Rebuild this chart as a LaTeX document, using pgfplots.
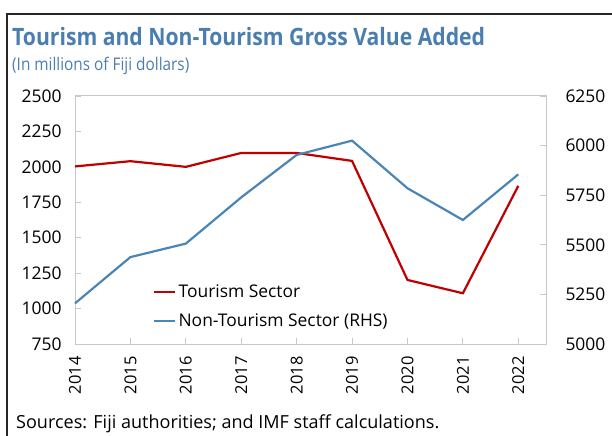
\documentclass[border=0pt]{standalone}
\usepackage{graphicx}
\usepackage{pgfplots}
\pgfplotsset{compat=1.18}
\usepackage{fontspec}
\setmainfont{Open Sans}
\definecolor{titleblue}{HTML}{4A7EB0}
\definecolor{tred}{HTML}{C00000}
\definecolor{tblue}{HTML}{4A85B8}
\definecolor{axgray}{HTML}{C8C8C8}
\pgfplotsset{
  myax/.style={
    scale only axis, width=471bp, height=248bp,
    at={(75bp,-344bp)}, anchor=south west,
    xmin=2014, xmax=2022.5,
    axis line style={axgray, line width=1bp},
    tick style={axgray, line width=0.8bp},
    major tick length=6bp, tick align=inside,
    /pgf/number format/assume math mode=true,
    /pgf/number format/1000 sep={},
    ticklabel style={font=\fontsize{17.5}{20}\selectfont, text=black},
    clip=false,
  }
}
\begin{document}
\begin{tikzpicture}[x=1bp,y=1bp]
\useasboundingbox (0,0) rectangle (612,-436);
\draw[line width=1.2bp, black!85] (7,-436) -- (7,-14) -- (612,-14);
\node[anchor=base west, font=\fontsize{24}{28}\selectfont\bfseries, text=titleblue, inner sep=0] at (12,-46) {\scalebox{0.885}[1]{Tourism and Non-Tourism Gross Value Added}};
\node[anchor=base west, font=\fontsize{17.5}{21}\selectfont, text=titleblue, inner sep=0] at (12,-71) {\scalebox{0.88}[1]{(In millions of Fiji dollars)}};
\node[anchor=base west, font=\fontsize{18.1}{21}\selectfont, inner sep=0] at (16,-428) {Sources: Fiji authorities; and IMF staff calculations.};

\begin{axis}[myax,
  ymin=750, ymax=2500, ytick={750,1000,...,2500},
  xtick={2014,2015,...,2022},
  xtick pos=bottom, ytick pos=left,
  xticklabel style={rotate=90, anchor=east, font=\fontsize{16.5}{20}\selectfont},
  xticklabel shift=9bp,
  yticklabel style={anchor=east, xshift=-10bp},
  legend style={at={(0.166,0.246)}, anchor=north west, draw=none, fill=none,
    font=\fontsize{17.5}{20}\selectfont, row sep=10bp, inner sep=0pt,
    legend cell align=left},
  legend image code/.code={\draw[#1] (0bp,0bp) -- (21bp,0bp);},
]
\addplot[tred, line width=2.2bp] coordinates {
(2014,2003) (2015,2040) (2016,2000) (2017,2098) (2018,2098) (2019,2042) (2020,1202) (2021,1108) (2022,1866)};
\addlegendentry{Tourism Sector}
\addlegendimage{tblue, line width=2.2bp}
\addlegendentry{Non-Tourism Sector (RHS)}
\end{axis}

\begin{axis}[myax,
  ymin=5000, ymax=6250, ytick={5000,5250,...,6250},
  axis x line=none, axis y line*=right,
  yticklabel style={anchor=west, xshift=16bp},
]
\addplot[tblue, line width=2.2bp] coordinates {
(2014,5205) (2015,5438) (2016,5506) (2017,5739) (2018,5953) (2019,6025) (2020,5785) (2021,5625) (2022,5855)};
\end{axis}
\end{tikzpicture}
\end{document}
